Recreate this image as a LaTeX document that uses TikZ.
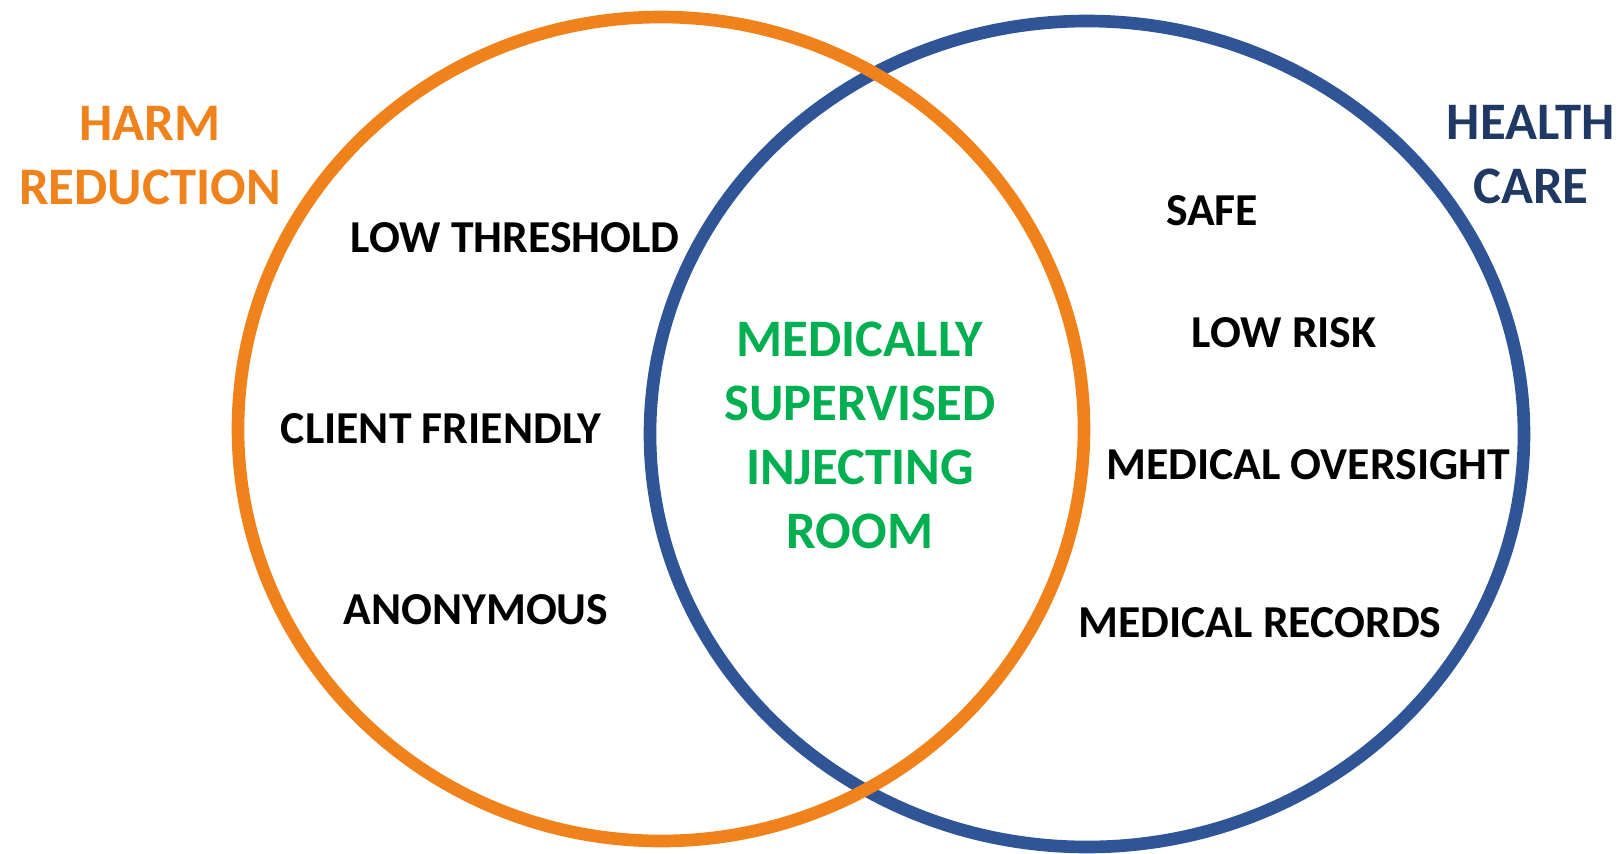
\documentclass[tikz,border=0pt]{standalone}
\usepackage{fontspec}
\setmainfont{Carlito}
\definecolor{hrorange}{RGB}{240,130,28}
\definecolor{hcblue}{RGB}{47,85,151}
\definecolor{hcnavy}{RGB}{32,56,100}
\definecolor{msgreen}{RGB}{0,176,80}
\tikzset{
	ring/.style={line width=3.6pt},
	heading/.style={align=center, font=\bfseries\fontsize{15}{18.2}\selectfont},
	item/.style={font=\bfseries\fontsize{13}{15}\selectfont}
}
\begin{document}
\begin{tikzpicture}
	\useasboundingbox (0,0) rectangle (16.24,8.53);
	% the two sets
	\draw[ring, hcblue] (10.87,4.19) ellipse [x radius=4.37, y radius=4.13];
	\draw[ring, hrorange] (6.61,4.24) ellipse [x radius=4.23, y radius=4.12];
	% set titles
	\node[heading, text=hrorange] (harm) at (1.50,6.97) {HARM\\REDUCTION};
	\node[heading, text=hcnavy] (health) at (15.31,6.98) {HEALTH\\CARE};
	% harm reduction only
	\node[item] (lowthr) at (5.15,6.15) {LOW THRESHOLD};
	\node[item] (client) at (4.41,4.24) {CLIENT FRIENDLY};
	\node[item] (anon) at (4.76,2.43) {ANONYMOUS};
	% overlap
	\node[heading, text=msgreen] (msir) at (8.60,4.18) {MEDICALLY\\SUPERVISED\\INJECTING\\ROOM};
	% health care only
	\node[item] (safe) at (12.12,6.42) {SAFE};
	\node[item] (lowrisk) at (12.84,5.20) {LOW RISK};
	\node[item] (oversight) at (13.08,3.88) {MEDICAL OVERSIGHT};
	\node[item] (records) at (12.60,2.30) {MEDICAL RECORDS};
\end{tikzpicture}
\end{document}
